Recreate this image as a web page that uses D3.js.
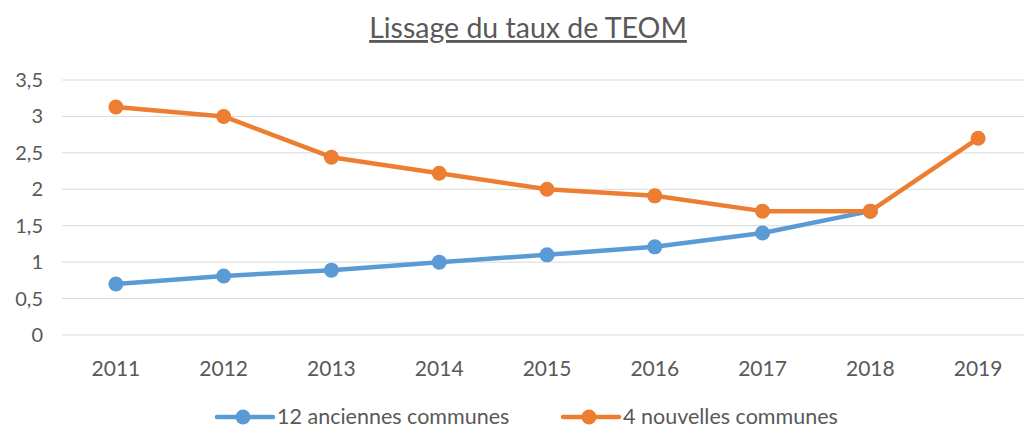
<!DOCTYPE html>
<html>
<head>
<meta charset="utf-8">
<script src="https://cdn.jsdelivr.net/npm/d3@7"></script>
<style>
  body { margin: 0; background: #fff; }
  svg { display: block; font-family: Lato, "Open Sans", sans-serif; }
</style>
</head>
<body>
<svg width="1024" height="428"></svg>
<script>
const years = ['2011', '2012', '2013', '2014', '2015', '2016', '2017', '2018', '2019'];
const anciennes = [0.7, 0.81, 0.89, 1.0, 1.1, 1.21, 1.4, 1.7, null];
const nouvelles = [3.13, 3.0, 2.44, 2.22, 2.0, 1.91, 1.7, 1.7, 2.7];
const yTicks = [0, 0.5, 1, 1.5, 2, 2.5, 3, 3.5];

const seriesList = [
  { name: '12 anciennes communes', values: anciennes, color: '#5B9BD5' },
  { name: '4 nouvelles communes', values: nouvelles, color: '#ED7D31' }
];

const svg = d3.select('svg');
const fmt = d => String(d).replace('.', ',');

const x = d3.scaleBand().domain(years).range([62, 1032]);
const y = d3.scaleLinear().domain([0, 3.5]).range([335, 80]);

// gridlines
svg.append('g')
  .selectAll('line').data(yTicks)
  .enter().append('line')
  .attr('x1', 62).attr('x2', 1032)
  .attr('y1', d => y(d)).attr('y2', d => y(d))
  .attr('stroke', '#d9d9d9').attr('stroke-width', 1);

// y labels
svg.append('g')
  .selectAll('text').data(yTicks)
  .enter().append('text')
  .attr('x', 43).attr('y', d => y(d))
  .attr('dy', '0.35em')
  .attr('text-anchor', 'end')
  .attr('fill', '#595959')
  .style('font-size', '20px')
  .text(fmt);

// x labels
svg.append('g')
  .selectAll('text').data(years)
  .enter().append('text')
  .attr('x', d => x(d) + x.bandwidth() / 2)
  .attr('y', 376)
  .attr('text-anchor', 'middle')
  .attr('fill', '#595959')
  .style('font-size', '21px')
  .text(d => d);

// title
svg.append('text')
  .attr('x', 528).attr('y', 38)
  .attr('text-anchor', 'middle')
  .attr('fill', '#595959')
  .style('font-size', '28.5px')
  .style('text-decoration', 'underline')
  .text('Lissage du taux de TEOM');

const line = d3.line()
  .defined(d => d.v != null)
  .x(d => x(d.year) + x.bandwidth() / 2)
  .y(d => y(d.v));

seriesList.forEach(s => {
  const pts = years.map((yr, i) => ({ year: yr, v: s.values[i] }));
  const g = svg.append('g');
  g.append('path')
    .attr('d', line(pts))
    .attr('fill', 'none')
    .attr('stroke', s.color)
    .attr('stroke-width', 4.5)
    .attr('stroke-linejoin', 'round');
  g.selectAll('circle').data(pts.filter(d => d.v != null))
    .enter().append('circle')
    .attr('cx', d => x(d.year) + x.bandwidth() / 2)
    .attr('cy', d => y(d.v))
    .attr('r', 7.5)
    .attr('fill', s.color);
});

// legend
const legendX = [217, 563];
const legend = svg.append('g')
  .selectAll('g').data(seriesList)
  .enter().append('g')
  .attr('transform', (d, i) => `translate(${legendX[i]},417)`);
legend.append('line')
  .attr('x1', 0).attr('x2', 56)
  .attr('stroke', d => d.color).attr('stroke-width', 4.5)
  .attr('stroke-linecap', 'round');
legend.append('circle')
  .attr('cx', 26).attr('r', 7.5)
  .attr('fill', d => d.color);
legend.append('text')
  .attr('x', 60).attr('dy', '0.32em')
  .attr('fill', '#595959')
  .style('font-size', '21.5px')
  .text(d => d.name);
</script>
</body>
</html>
